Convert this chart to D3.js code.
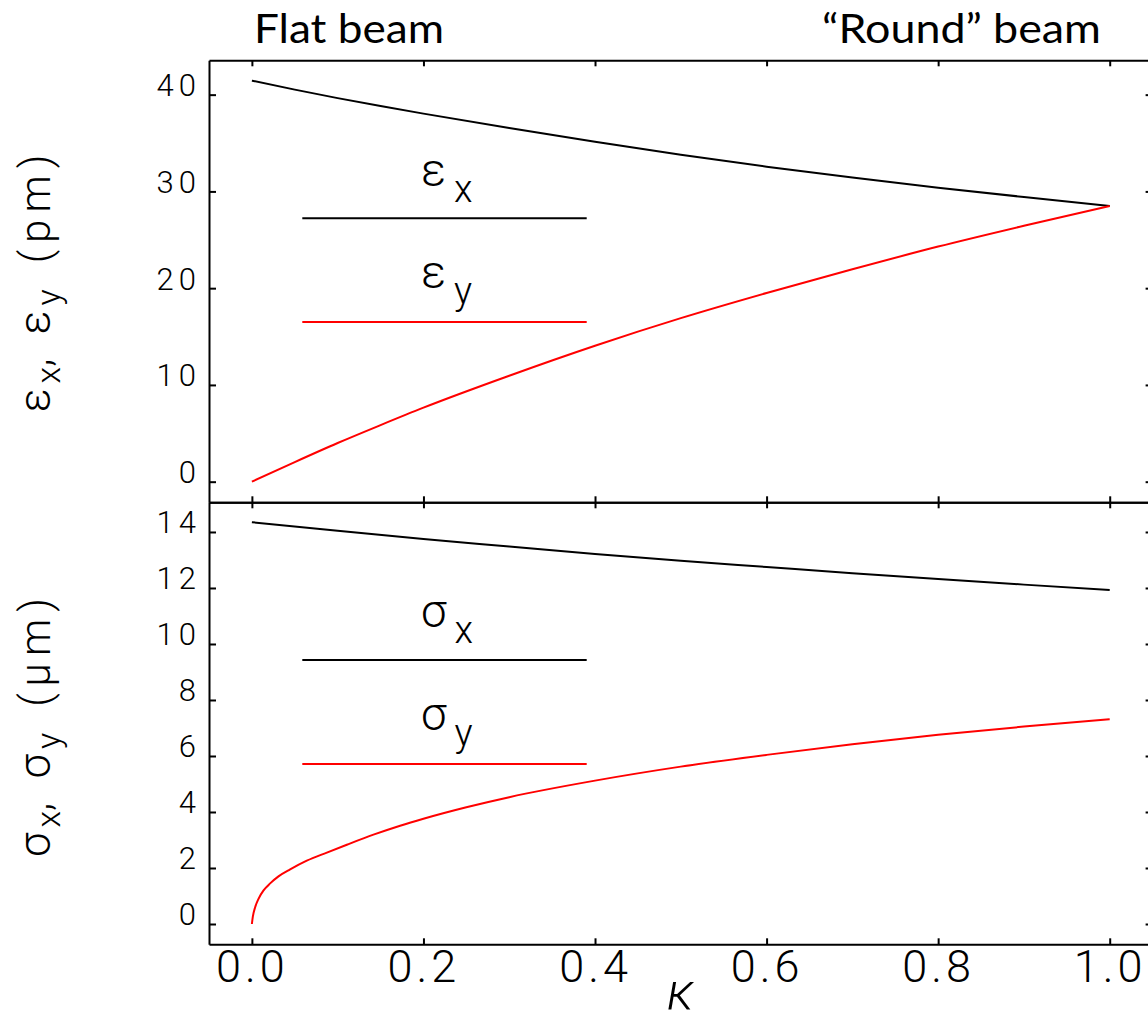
<!DOCTYPE html>
<html>
<head>
<meta charset="utf-8">
<script src="https://cdn.jsdelivr.net/npm/d3@7"></script>
<style>
  html, body { margin: 0; padding: 0; background: #fff; }
  svg { display: block; }
  .hf { font-family: Roboto, "DejaVu Sans", sans-serif; font-weight: 300; fill: #000; }
  .title { font-family: Lato, "Open Sans", sans-serif; font-weight: 400; fill: #000; }
</style>
</head>
<body>
<svg id="chart" width="1148" height="1023"></svg>
<script>
// ---- data ----
const kappaEmit = [0, 0.05, 0.1, 0.15, 0.2, 0.3, 0.4, 0.5, 0.6, 0.7, 0.8, 0.9, 1.0];
const emitX = [41.45, 40.52, 39.64, 38.82, 38.04, 36.55, 35.14, 33.8, 32.56, 31.43, 30.39, 29.42, 28.5];
const emitY = [0, 2.03, 4.0, 5.85, 7.65, 10.95, 14.05, 16.9, 19.5, 21.95, 24.3, 26.45, 28.5];

const kappaSigX = [0, 0.1, 0.2, 0.3, 0.4, 0.5, 0.6, 0.7, 0.8, 0.9, 1.0];
const sigmaX = [14.35, 14.04, 13.75, 13.48, 13.21, 12.97, 12.75, 12.53, 12.32, 12.12, 11.93];

const kappaSigY = [0, 0.0011, 0.0038, 0.0077, 0.0136, 0.0213, 0.031, 0.0446, 0.064, 0.0874, 0.1107, 0.1417, 0.1728, 0.2, 0.25, 0.3, 0.4, 0.5, 0.6, 0.7, 0.8, 0.9, 1.0];
const sigmaY = [0, 0.26, 0.6, 0.9, 1.2, 1.45, 1.7, 1.95, 2.26, 2.55, 2.83, 3.19, 3.51, 3.76, 4.17, 4.53, 5.12, 5.62, 6.04, 6.42, 6.76, 7.05, 7.31];

const xTicks = [0, 0.2, 0.4, 0.6, 0.8, 1.0];
const yTopTicks = [0, 10, 20, 30, 40];
const yBotTicks = [0, 2, 4, 6, 8, 10, 12, 14];

// ---- layout ----
const svg = d3.select("#chart");
svg.append("rect").attr("width", 1148).attr("height", 1023).attr("fill", "#fff");

const x = d3.scaleLinear().domain([-0.05, 1.05]).range([209, 1152.6]);
const yTop = d3.scaleLinear().domain([-2.13, 43.55]).range([502.3, 60.3]);
const yBot = d3.scaleLinear().domain([-0.725, 15.06]).range([944.3, 502.3]);

const xL = x.range()[0], xR = x.range()[1];

function styleAxis(g, fontSize, letterSp) {
  g.select(".domain").attr("stroke", "#000").attr("stroke-width", 2);
  g.selectAll(".tick line").attr("stroke", "#000").attr("stroke-width", 2);
  g.selectAll(".tick text")
    .attr("class", "hf")
    .attr("font-size", fontSize)
    .attr("letter-spacing", letterSp)
    .attr("fill", "#000");
  g.attr("font-family", null).attr("font-size", null);
}

function panel(y, yTicks) {
  const [yb, yt] = y.range();
  const gl = svg.append("g").attr("transform", `translate(${xL},0)`)
    .call(d3.axisLeft(y).tickValues(yTicks).tickSize(-7).tickSizeOuter(0).tickPadding(8).tickFormat(d3.format("d")));
  styleAxis(gl, 31, 5);
  gl.selectAll(".tick text").attr("dy", "0.03em");
  const gr = svg.append("g").attr("transform", `translate(${xR},0)`)
    .call(d3.axisRight(y).tickValues(yTicks).tickSize(-7).tickSizeOuter(0).tickFormat(""));
  styleAxis(gr, 24, 0);
  const gt = svg.append("g").attr("transform", `translate(0,${yt})`)
    .call(d3.axisTop(x).tickValues(xTicks).tickSize(-6).tickSizeOuter(0).tickFormat(""));
  styleAxis(gt, 24, 0);
}

panel(yTop, yTopTicks);
panel(yBot, yBotTicks);

const gmid = svg.append("g").attr("transform", `translate(0,${yTop.range()[0]})`)
  .call(d3.axisBottom(x).tickValues(xTicks).tickSize(-6).tickSizeOuter(0).tickFormat(""));
styleAxis(gmid, 24, 0);

const gb = svg.append("g").attr("transform", `translate(0,${yBot.range()[0]})`)
  .call(d3.axisBottom(x).tickValues(xTicks).tickSize(-6).tickSizeOuter(0).tickPadding(6).tickFormat(d3.format(".1f")));
styleAxis(gb, 45, 4);

// ---- curves ----
function drawLine(xs, ys, yScale, color) {
  const data = xs.map((k, i) => [k, ys[i]]);
  svg.append("path")
    .datum(data)
    .attr("fill", "none")
    .attr("stroke", color)
    .attr("stroke-width", 2)
    .attr("d", d3.line().x(d => x(d[0])).y(d => yScale(d[1])).curve(d3.curveMonotoneX));
}
drawLine(kappaEmit, emitX, yTop, "#000");
drawLine(kappaEmit, emitY, yTop, "#ff0000");
drawLine(kappaSigX, sigmaX, yBot, "#000");
drawLine(kappaSigY, sigmaY, yBot, "#ff0000");

// ---- legends ----
const legend = [
  { sym: "ε", sub: "x", color: "#000", lineY: 218.3, textY: 186 },
  { sym: "ε", sub: "y", color: "#ff0000", lineY: 322, textY: 288 },
  { sym: "σ", sub: "x", color: "#000", lineY: 660, textY: 627 },
  { sym: "σ", sub: "y", color: "#ff0000", lineY: 764, textY: 730 }
];
legend.forEach(l => {
  svg.append("line")
    .attr("x1", 302.3).attr("x2", 586.7)
    .attr("y1", l.lineY).attr("y2", l.lineY)
    .attr("stroke", l.color).attr("stroke-width", 2);
  const t = svg.append("text").attr("class", "hf")
    .attr("x", 421).attr("y", l.textY).attr("font-size", 46);
  t.append("tspan").text(l.sym);
  t.append("tspan").attr("dx", 8).attr("dy", 16).attr("font-size", 38).text(l.sub);
});

// ---- axis titles ----
function yTitle(cx, cy, sym, unit) {
  const t = svg.append("text").attr("class", "hf")
    .attr("transform", `translate(${cx},${cy}) rotate(-90)`)
    .attr("text-anchor", "middle")
    .attr("font-size", 44);
  t.append("tspan").text(sym);
  t.append("tspan").attr("dx", 5).attr("dy", 10).attr("font-size", 34).text("x");
  t.append("tspan").attr("dy", -10).attr("font-size", 44).text(",");
  t.append("tspan").attr("dx", 24).text(sym);
  t.append("tspan").attr("dx", 5).attr("dy", 10).attr("font-size", 34).text("y");
  t.append("tspan").attr("dx", 26).attr("dy", -10).attr("font-size", 42).attr("letter-spacing", 7).text(unit);
}
yTitle(50, 280, "ε", "(pm)");
yTitle(50, 724, "σ", "(μm)");

svg.append("text").attr("class", "hf")
  .attr("x", (xL + xR) / 2).attr("y", 1009)
  .attr("text-anchor", "middle")
  .attr("font-size", 52).attr("font-style", "italic")
  .text("κ");

// ---- header titles ----
svg.append("text").attr("class", "title")
  .attr("x", 254).attr("y", 43).attr("font-size", 41)
  .attr("textLength", 190).attr("lengthAdjust", "spacingAndGlyphs")
  .text("Flat beam");
svg.append("text").attr("class", "title")
  .attr("x", 822).attr("y", 43).attr("font-size", 41)
  .attr("textLength", 279).attr("lengthAdjust", "spacingAndGlyphs")
  .text("“Round” beam");
</script>
</body>
</html>
